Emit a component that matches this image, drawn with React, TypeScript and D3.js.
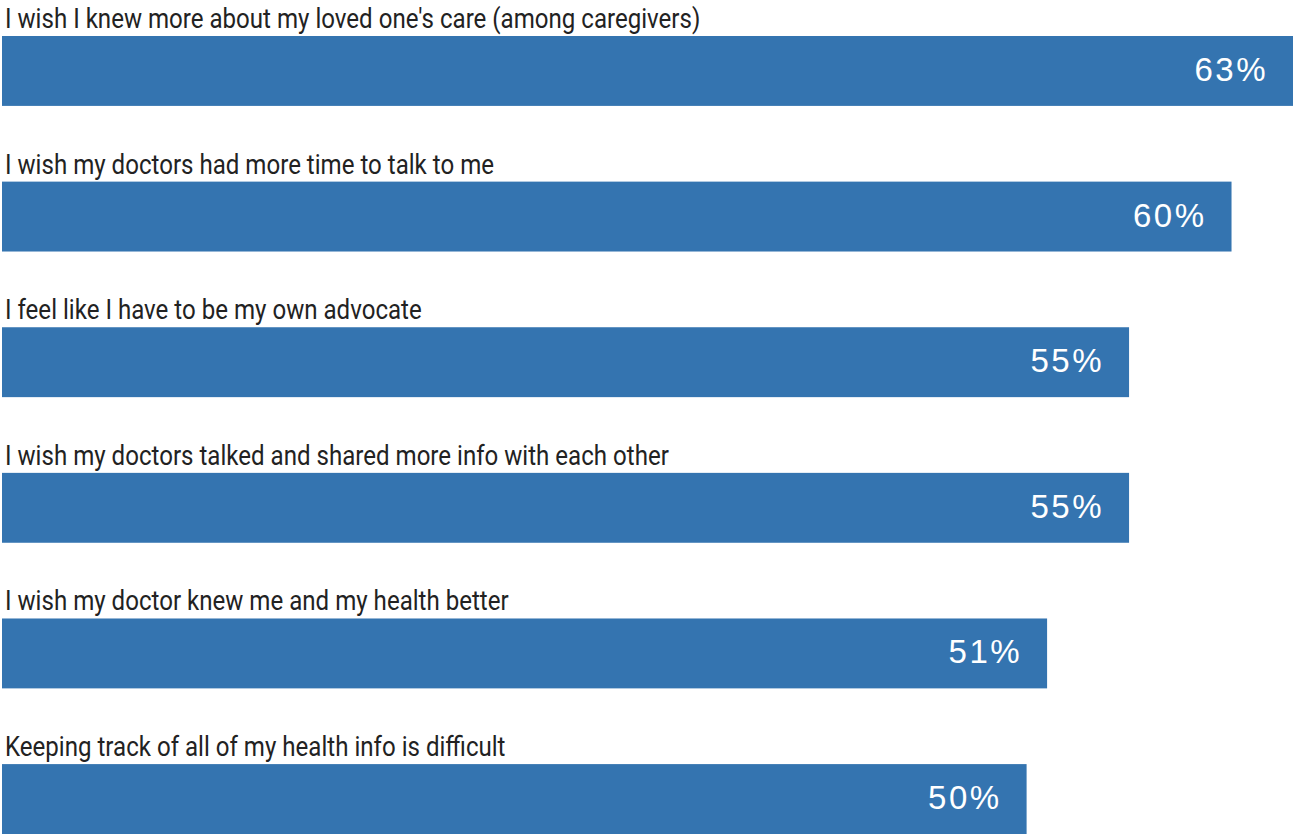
import React from "react";
import * as d3 from "d3";

const statements = [
  "I wish I knew more about my loved one's care (among caregivers)",
  "I wish my doctors had more time to talk to me",
  "I feel like I have to be my own advocate",
  "I wish my doctors talked and shared more info with each other",
  "I wish my doctor knew me and my health better",
  "Keeping track of all of my health info is difficult",
];
const percents = [63, 60, 55, 55, 51, 50];

const WIDTH = 1293;
const HEIGHT = 835;

export default function App() {
  const x = d3.scaleLinear().domain([0, d3.max(percents) as number]).range([2, WIDTH]);
  const y = d3
    .scaleBand<string>()
    .domain(statements)
    .range([36, 834])
    .paddingInner(0.52)
    .paddingOuter(0);
  const bw = y.bandwidth();

  return (
    <svg
      width={WIDTH}
      height={HEIGHT}
      style={{ position: "absolute", left: 0, top: 0, background: "#fff" }}
    >
      {statements.map((s, i) => {
        const top = y(s) as number;
        return (
          <g key={s}>
            {/* condensed look: squeeze Roboto horizontally */}
            <text
              transform={`translate(5,${top - 8}) scale(0.86,1)`}
              fontFamily="Roboto, sans-serif"
              fontSize={28}
              fill="#222"
            >
              {s}
            </text>
            <rect x={x(0)} y={top} width={x(percents[i]) - x(0)} height={bw} fill="#3474b0" />
            <text
              x={x(percents[i]) - 25}
              y={top + bw / 2 + 10}
              textAnchor="end"
              fontFamily="'Liberation Sans', Arial, sans-serif"
              fontSize={33}
              letterSpacing={2.5}
              fill="#fff"
            >
              {percents[i]}%
            </text>
          </g>
        );
      })}
    </svg>
  );
}
